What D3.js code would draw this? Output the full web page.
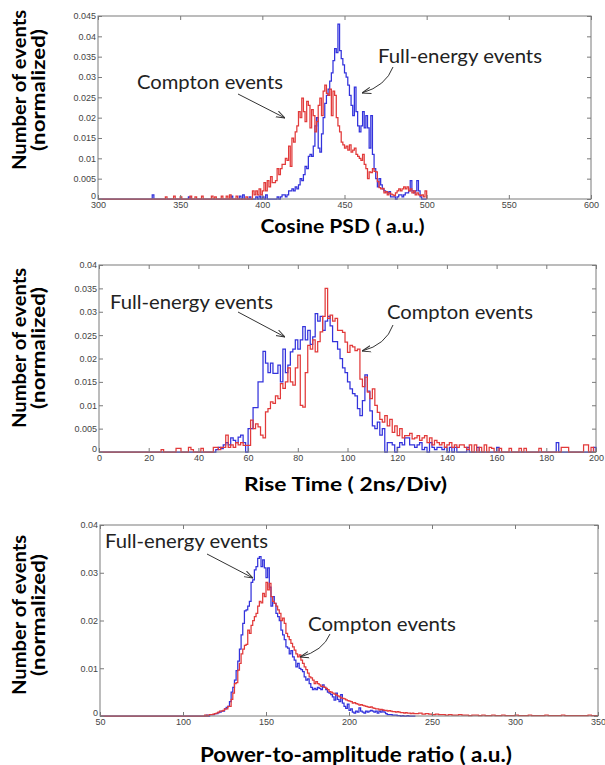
<!DOCTYPE html>
<html><head><meta charset="utf-8">
<script src="https://cdn.jsdelivr.net/npm/d3@7"></script>
<style>body{margin:0;background:#fff}svg{display:block}</style>
</head><body><svg id="c" width="605" height="765"></svg>
<script>
// ---------------- DATA ----------------
// Panel 1: Cosine PSD, bins of width 1 starting at 330
const psdStart = 330, psdBin = 1;
const psdBlue = [
0,0,0,0.001,0,0,0,0,0,0,
0,0,0,0,0,0,0,0,0,0,
0,0,0,0,0,0.0005,0,0,0,0,
0,0,0,0,0,0,0,0,0,0,
0,0,0,0,0,0,0,0,0,0,
0,0.0007,0,0,0,0,0.0007,0,0.001,0,
0,0,0.0005,0,0,0,0.0005,0,0.0007,0,
0.0005,0,0.001,0,0,0,0,0,0,0.0005,
0,0.0005,0.001,0.001,0.0005,0.001,0.002,0.002,0.0025,0.002,
0.003,0.0025,0.0035,0.005,0.0045,0.006,0.008,0.0075,0.0105,0.011,
0.0105,0.013,0.018,0.02,0.0125,0.0115,0.016,0.02,0.0235,0.0255,
0.027,0.029,0.031,0.034,0.037,0.036,0.043,0.0365,0.0345,0.033,
0.031,0.03,0.028,0.0255,0.023,0.0205,0.0275,0.0215,0.018,0.0165,
0.018,0.0215,0.0175,0.0205,0.0175,0.0125,0.0205,0.011,0.0075,0.005,
0.003,0.005,0.0035,0.0025,0.002,0.0018,0.0015,0.0018,0.0005,0.0005,
0.0005,0,0.0005,0.001,0.001,0.0005,0.001,0.0015,0.0015,0.002,
0.0045,0.002,0.0015,0.002,0.0045,0.002,0.0005,0,0,0];
const psdRed = [
0,0,0,0,0,0,0,0,0,0,
0,0.0005,0,0,0,0,0.0007,0,0,0,
0.0005,0,0,0,0,0,0.0007,0,0,0.0005,
0,0,0,0.0007,0,0,0,0,0,0.0007,
0,0.0005,0,0,0,0.0007,0,0,0.0007,0,
0.001,0,0,0,0.0007,0,0,0,0,0,
0.0005,0,0,0,0.002,0.001,0.002,0.001,0.0025,0.001,
0.002,0.004,0.002,0.0045,0.003,0.0055,0.004,0.004,0.0045,0.0075,
0.006,0.0075,0.0085,0.0085,0.01,0.0095,0.013,0.008,0.015,0.014,
0.0165,0.018,0.0215,0.02,0.0248,0.0215,0.019,0.024,0.023,0.0175,
0.022,0.0205,0.0165,0.019,0.023,0.0248,0.0205,0.0265,0.028,0.026,
0.0255,0.027,0.0205,0.0265,0.0255,0.02,0.018,0.0165,0.014,0.0133,
0.0125,0.013,0.012,0.0133,0.0115,0.012,0.0125,0.011,0.0105,0.01,
0.0095,0.011,0.0085,0.0075,0.005,0.0067,0.0065,0.0075,0.0068,0.0067,
0.0043,0.0028,0.0025,0.0026,0.0015,0.0018,0.001,0.0015,0.0012,0.001,
0.0008,0.0015,0.002,0.0025,0.002,0.0025,0.003,0.0025,0.003,0.002,
0.0025,0.0015,0.002,0.001,0.0015,0.001,0.0008,0.001,0.0005,0.002];
const psdXTicks = [300,350,400,450,500,550,600];
const psdYTicks = [0,0.005,0.01,0.015,0.02,0.025,0.03,0.035,0.04,0.045];

// Panel 2: Rise time, bins of width 1 starting at 20
const rtStart = 20, rtBin = 1;
const rtBlue = [
0,0,0,0,0,0,0,0,0,0,
0,0,0,0,0,0,0,0,0,0,
0,0,0,0,0,0,0,0.0005,0.001,0.0007,
0.0015,0.002,0.0015,0.003,0.0025,0.002,0.0032,0.0036,0.002,0,
0.005,0.005,0.0095,0.0095,0.015,0.015,0.0215,0.019,0.017,0.019,
0.0168,0.0168,0.0186,0.015,0.022,0.017,0.0186,0.0214,0.022,0.024,
0.022,0.024,0.0268,0.024,0.026,0.023,0.0246,0.0296,0.028,0.029,
0.026,0.028,0.029,0.027,0.0236,0.0236,0.022,0.02,0.018,0.017,
0.015,0.0135,0.0125,0.012,0.0093,0.0078,0.011,0.0165,0.013,0.0088,
0.0056,0.005,0.0064,0.0036,0.005,0,0.002,0.002,0.0015,0,
0.001,0.002,0.0015,0.003,0.003,0.0015,0.0015,0.001,0.0015,0.002,
0.0005,0.001,0,0.002,0.001,0.0005,0.001,0.001,0.0005,0.001,
0,0.001,0,0.001,0,0,0,0,0.001,0,
0,0,0.001,0,0,0,0,0,0,0,
0.001,0,0,0,0,0,0,0,0,0,
0,0,0,0,0,0,0,0,0,0,
0,0,0,0,0.002,0,0,0,0,0,
0,0,0,0,0,0,0,0,0,0.001];
const rtRed = [
0,0,0,0,0,0.0005,0,0,0,0,
0,0.0008,0.0008,0,0,0,0.001,0.0005,0,0,
0,0.0008,0,0,0,0,0.001,0.001,0.0005,0.001,
0.001,0.0036,0.001,0.0015,0.001,0.002,0.0015,0.002,0.0014,0.0014,
0.0014,0.0068,0.005,0.006,0.0054,0.0036,0.003,0.0086,0.0093,0.0107,
0.0104,0.012,0.0114,0.0146,0.0136,0.015,0.018,0.015,0.0143,0.018,
0.0207,0.01,0.0096,0.017,0.0228,0.022,0.024,0.0214,0.0236,0.0257,
0.029,0.035,0.0286,0.0293,0.028,0.0286,0.026,0.026,0.0256,0.0235,
0.0213,0.0228,0.0225,0.0217,0.022,0.0156,0.014,0.016,0.0128,0.0114,
0.0135,0.01,0.0085,0.007,0.0064,0.0078,0.0056,0.007,0.0042,0.0056,
0.0035,0.005,0.003,0.0035,0.0035,0.004,0.0028,0.003,0.0035,0.0025,
0.003,0.0035,0.002,0.003,0.0015,0.0025,0.002,0.0015,0.002,0.001,
0.0015,0.002,0.001,0.0015,0.001,0.0015,0.0015,0.001,0.0005,0.0015,
0,0.0015,0,0.001,0,0.0015,0,0.001,0.0008,0,
0,0.0008,0,0,0,0.0008,0,0,0,0.0008,
0,0.0008,0,0,0,0,0,0.0008,0,0,
0,0,0,0,0,0,0.001,0.001,0.001,0,
0,0,0,0,0,0.0015,0.0015,0,0.001,0];
const rtXTicks = [0,20,40,60,80,100,120,140,160,180,200];
const rtYTicks = [0,0.005,0.01,0.015,0.02,0.025,0.03,0.035,0.04];

// Panel 3: Power-to-amplitude ratio; core bins width 1 from 110, tail bins width 2 from 240
const praStart = 110, praBin = 1;
const praBlue = [
0,0,0,0,0.0002,0,0.0003,0.0003,0.0003,0.0005,
0.0005,0.0007,0.0008,0.001,0.001,0.0015,0.0018,0.002,0.003,0.005,
0.006,0.0075,0.0095,0.0115,0.014,0.017,0.0194,0.022,0.0222,0.023,
0.024,0.028,0.0285,0.0306,0.0313,0.033,0.0334,0.0313,0.0327,0.031,
0.029,0.031,0.027,0.023,0.025,0.0236,0.0215,0.0208,0.02,0.018,
0.017,0.016,0.0145,0.0142,0.013,0.0137,0.0124,0.0117,0.0103,0.011,
0.01,0.0097,0.0093,0.0082,0.0075,0.0078,0.0068,0.006,0.0055,0.0058,
0.0055,0.006,0.0058,0.0055,0.0065,0.006,0.0055,0.005,0.0048,0.0045,
0.004,0.0033,0.0048,0.0035,0.003,0.0045,0.0027,0.002,0.0016,0.0025,
0.0012,0.0015,0.0008,0.0006,0.001,0.0008,0.0017,0.001,0.0008,0.0006,
0.001,0.0008,0.001,0.0012,0.001,0.0008,0.001,0.0006,0.001,0.0008,
0.0012,0.0008,0.0005,0.0003,0.0003,0.0003,0.0002,0.0002,0.0002,0.0001,
0.0001,0,0.0001,0,0,0.0001,0,0,0,0];
const praRed = [
0,0,0,0.0002,0,0.0002,0.0003,0.0003,0.0004,0.0005,
0.0006,0.0008,0.001,0.001,0.0012,0.0015,0.0015,0.002,0.002,0.0035,
0.0048,0.0068,0.007,0.0096,0.011,0.013,0.014,0.0148,0.015,0.018,
0.0173,0.019,0.02,0.0208,0.0215,0.023,0.024,0.0237,0.0257,0.025,
0.028,0.0264,0.0278,0.025,0.024,0.0236,0.023,0.0222,0.0215,0.02,
0.0205,0.0194,0.0173,0.0166,0.016,0.0152,0.0145,0.0138,0.013,0.0124,
0.0128,0.0117,0.011,0.0103,0.0097,0.009,0.0082,0.008,0.0075,0.0068,
0.0072,0.0068,0.0065,0.0062,0.0062,0.006,0.0058,0.0055,0.0051,0.005,
0.0048,0.0046,0.0044,0.0042,0.004,0.0038,0.0037,0.0036,0.0034,0.0032,
0.0031,0.003,0.0027,0.0028,0.0026,0.0025,0.0023,0.0024,0.0022,0.0021,
0.002,0.0019,0.0018,0.0019,0.0017,0.0016,0.0015,0.0015,0.0013,0.0014,
0.0013,0.0012,0.0012,0.001,0.0011,0.001,0.0009,0.0009,0.0008,0.0009,
0.0008,0.0007,0.0007,0.0006,0.0007,0.0006,0.0006,0.0005,0.0006,0.0005];
const praTailStart = 240, praTailBin = 2;
const praRedTail = [
0.0005,0.0006,0.0004,0.0005,0.0004,0.0003,0.0004,0.0003,0.0003,0.0002,
0.0003,0.0002,0.0002,0.0003,0.0002,0.0002,0.0001,0.0002,0.0002,0.0001,
0.0002,0.0001,0.0001,0.0002,0.0001,0.0001,0.0002,0.0001,0.0001,0.0001,
0.0002,0.0001,0.0001,0.0001,0.0002,0.0001,0.0001,0.0001,0.0001,0.0002,
0.0001,0.0001,0.0001,0.0001,0.0002,0.0001,0.0001,0.0001,0.0001,0.0001,
0.0001,0.0001,0.0002,0.0001,0.0001];
const praXTicks = [50,100,150,200,250,300,350];
const praYTicks = [0,0.01,0.02,0.03,0.04];

// ---------------- DRAWING ----------------
const BLUE = "#3333dc", RED = "#e23a3a", AXIS = "#7a7a7a";
const svg = d3.select("#c");
const TITLE_FONT = "Lato, 'Open Sans', sans-serif";

const defs = svg.append("defs");
defs.append("marker").attr("id","ah").attr("viewBox","0 0 10 10")
  .attr("refX",10).attr("refY",5).attr("markerWidth",9).attr("markerHeight",9)
  .attr("orient","auto").attr("markerUnits","userSpaceOnUse")
  .append("path").attr("d","M0,1.5 L10,5 L0,8.5").attr("fill","none")
  .attr("stroke","#333").attr("stroke-width",1.1);

function bins(start, w, vals) {
  return vals.map((v,i)=>({x0:start+i*w, x1:start+(i+1)*w, v}));
}

function panel(cfg) {
  const x = d3.scaleLinear().domain(cfg.xDomain).range([cfg.left, cfg.right]);
  const y = d3.scaleLinear().domain(cfg.yDomain).range([cfg.bottom, cfg.top]);
  const g = svg.append("g");
  const fmtY = d => d === 0 ? "0" : String(+d.toFixed(3));

  // series (step histograms)
  const line = d3.line().x(d=>x(d[0])).y(d=>y(d[1])).curve(d3.curveStepAfter);
  cfg.series.forEach(s => {
    const b = s.bins;
    const pts = [[cfg.xDomain[0], 0]];
    b.forEach(d => pts.push([d.x0, d.v]));
    pts.push([b[b.length-1].x1, 0]);
    g.append("path").attr("d", line(pts)).attr("fill","none")
      .attr("stroke", s.color).attr("stroke-width",1.25).attr("stroke-linejoin","miter");
  });

  // box
  g.append("rect").attr("x",cfg.left).attr("y",cfg.top)
    .attr("width",cfg.right-cfg.left).attr("height",cfg.bottom-cfg.top)
    .attr("fill","none").attr("stroke",AXIS).attr("stroke-width",1);

  const styleAxis = sel => {
    sel.select(".domain").remove();
    sel.selectAll("line").attr("stroke",AXIS);
    sel.selectAll("text").attr("fill","#444").style("font-family","'Liberation Sans', Arial, sans-serif").style("font-size","9px");
  };
  g.append("g").attr("transform",`translate(0,${cfg.bottom})`)
    .call(d3.axisBottom(x).tickValues(cfg.xTicks).tickSize(-4).tickPadding(3).tickFormat(d3.format("d"))).call(styleAxis);
  g.append("g").attr("transform",`translate(0,${cfg.top})`)
    .call(d3.axisTop(x).tickValues(cfg.xTicks).tickSize(-4).tickFormat("")).call(styleAxis);
  g.append("g").attr("transform",`translate(${cfg.left},0)`)
    .call(d3.axisLeft(y).tickValues(cfg.yTicks).tickSize(-4).tickPadding(2).tickFormat(fmtY)).call(styleAxis)
    .selectAll(".tick text").filter(d => d === 0).attr("y", -3.5);
  g.append("g").attr("transform",`translate(${cfg.right},0)`)
    .call(d3.axisRight(y).tickValues(cfg.yTicks).tickSize(-4).tickFormat("")).call(styleAxis);

  // y title
  [["Number of events",25.5,160],["(normalized)",44.5,122]].forEach(([t,xx,len]) => {
    svg.append("text").attr("transform",`translate(${xx},${cfg.yTitleY}) rotate(-90)`)
      .attr("text-anchor","middle").attr("font-family",TITLE_FONT).attr("font-weight","bold")
      .attr("font-size",18).attr("textLength",len).attr("lengthAdjust","spacingAndGlyphs").text(t);
  });
  // x title
  svg.append("text").attr("x",cfg.xTitle.x).attr("y",cfg.xTitle.y).attr("text-anchor","middle")
    .attr("font-family",TITLE_FONT).attr("font-weight","bold").attr("font-size",cfg.xTitle.size)
    .attr("textLength",cfg.xTitle.len).attr("lengthAdjust","spacingAndGlyphs").text(cfg.xTitle.text);

  // annotations
  cfg.notes.forEach(n => {
    svg.append("text").attr("x",n.x).attr("y",n.y).attr("font-family",TITLE_FONT)
      .attr("font-size",19).attr("fill","#222").attr("textLength",n.len)
      .attr("lengthAdjust","spacingAndGlyphs").text(n.text);
    const a = n.arrow;
    const d = a.length === 4 ? `M${a[0]},${a[1]}L${a[2]},${a[3]}`
                             : `M${a[0]},${a[1]}Q${a[4]},${a[5]} ${a[2]},${a[3]}`;
    svg.append("path").attr("d",d).attr("fill","none").attr("stroke","#333")
      .attr("stroke-width",1).attr("marker-end","url(#ah)");
  });
}

panel({
  left:98, right:591, top:16, bottom:199,
  xDomain:[300,600], yDomain:[0,0.045], xTicks:psdXTicks, yTicks:psdYTicks,
  series:[{color:BLUE, bins:bins(psdStart,psdBin,psdBlue)},{color:RED, bins:bins(psdStart,psdBin,psdRed)}],
  yTitleY:90,
  xTitle:{text:"Cosine PSD ( a.u.)", x:342.5, y:233, size:18, len:164},
  notes:[
    {text:"Compton events", x:137, y:89, len:146, arrow:[238,94,285,118]},
    {text:"Full-energy events", x:378, y:62.5, len:164, arrow:[393,67,362,93,386,86]}
  ]
});
panel({
  left:99, right:596, top:265, bottom:452,
  xDomain:[0,200], yDomain:[0,0.04], xTicks:rtXTicks, yTicks:rtYTicks,
  series:[{color:BLUE, bins:bins(rtStart,rtBin,rtBlue)},{color:RED, bins:bins(rtStart,rtBin,rtRed)}],
  yTitleY:348,
  xTitle:{text:"Rise Time ( 2ns/Div)", x:345.5, y:491, size:18, len:203},
  notes:[
    {text:"Full-energy events", x:110, y:309, len:163, arrow:[238,312,285,337]},
    {text:"Compton events", x:387, y:319, len:146, arrow:[393,325,362,351,386,345]}
  ]
});
panel({
  left:100, right:598, top:525, bottom:716,
  xDomain:[50,350], yDomain:[0,0.04], xTicks:praXTicks, yTicks:praYTicks,
  series:[{color:BLUE, bins:bins(praStart,praBin,praBlue)},
          {color:RED, bins:bins(praStart,praBin,praRed).concat(bins(praTailStart,praTailBin,praRedTail))}],
  yTitleY:615,
  xTitle:{text:"Power-to-amplitude ratio ( a.u.)", x:356, y:762, size:21, len:312},
  notes:[
    {text:"Full-energy events", x:105, y:548, len:163, arrow:[207,554,253,578]},
    {text:"Compton events", x:308, y:631, len:148, arrow:[330,634,300,657,323,651]}
  ]
});
</script></body></html>
